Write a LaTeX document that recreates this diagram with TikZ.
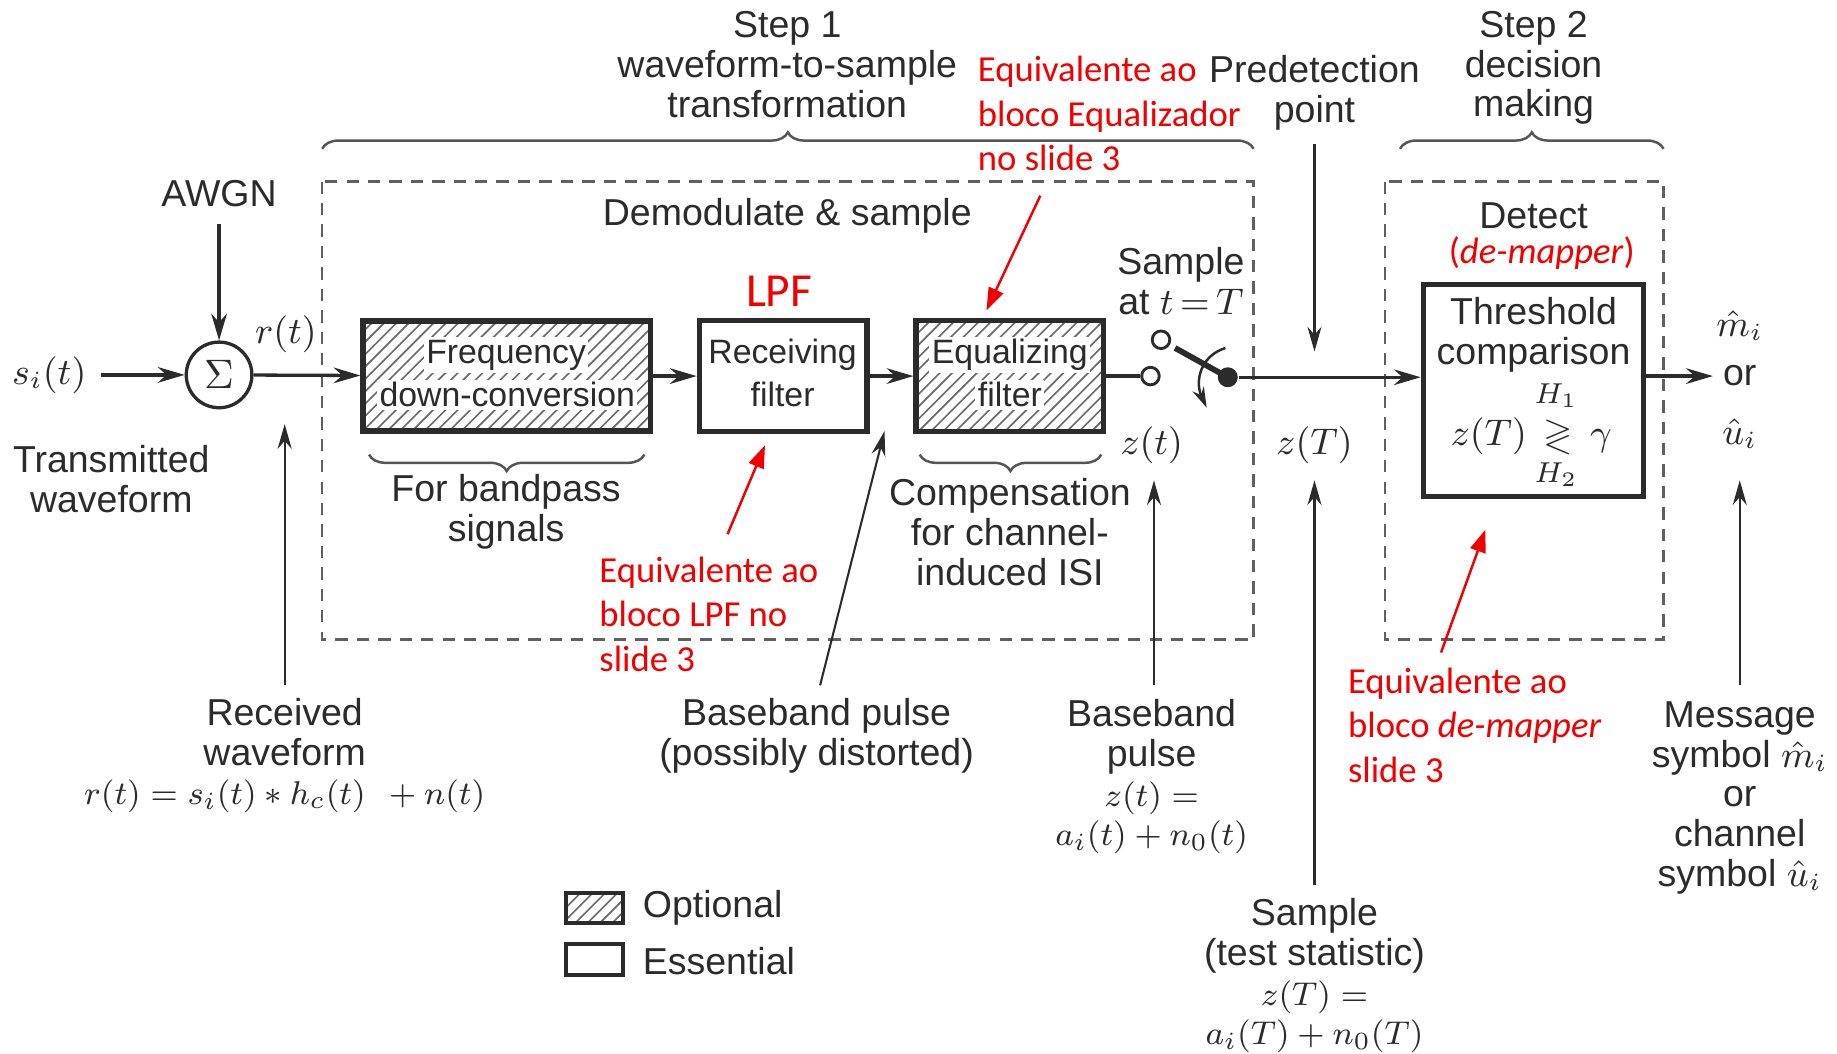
\documentclass[tikz,border=0pt]{standalone}
\usepackage{amsmath,amssymb}
\usepackage{fontspec}
\setmainfont{Liberation Sans}
\newfontfamily\redfont{Carlito}
\usetikzlibrary{arrows.meta,patterns,decorations.pathreplacing,calc}
\definecolor{ink}{HTML}{2B2B2B}
\definecolor{redc}{HTML}{F00000}
\newcommand{\smallmath}{\fontsize{8.4}{9.64}\selectfont}
\begin{document}
\begin{tikzpicture}[x=0.01cm,y=-0.01cm,
  txt/.style={font=\fontsize{9.1}{9.64}\selectfont, text=ink, align=center, inner sep=0pt},
  btxt/.style={font=\fontsize{8.2}{9.64}\selectfont, text=ink, inner sep=0.6pt, fill=white},
  rtxt/.style={font=\redfont\fontsize{8.9}{10.8}\selectfont, text=redc, align=left, inner sep=0pt},
  blk/.style={draw=ink, line width=1.3pt, inner sep=0pt},
  hatch/.style={pattern=north east lines, pattern color=ink!70},
  sig/.style={draw=ink, line width=0.8pt, -{Stealth[length=6.5pt,width=3.8pt]}},
  ann/.style={draw=ink, line width=0.5pt, -{Stealth[length=6pt,width=3.4pt]}},
  rarr/.style={draw=redc, line width=0.6pt, -{Triangle[length=5.5pt,width=3.8pt]}},
  dbox/.style={draw=ink!75, dash pattern=on 3pt off 2.2pt, line width=0.6pt},
  brc/.style={draw=ink!80, line width=0.6pt, decorate, decoration={brace, amplitude=4pt}},
  port/.style={circle, draw=ink, line width=0.7pt, fill=white, minimum size=0.15cm, inner sep=0pt}
]
\useasboundingbox (0,0) rectangle (1568,899);

% dashed frames
\draw[dbox] (275,155) rectangle (1070,546);
\draw[dbox] (1182,155) rectangle (1420,546);

% braces
\draw[brc] (275,127) -- (1070,127);
\draw[brc] (1195,127) -- (1420,127);
\draw[brc] (550,388) -- (315,388);
\draw[brc] (940,388) -- (785,388);

% top labels
\node[txt] (step1) at (672,55) {Step 1\\waveform-to-sample\\transformation};
\node[txt] (pred) at (1122,79) {Predetection\\point};
\node[txt] (step2) at (1309,58) {Step 2\\decision\\making};
\node[rtxt, anchor=west] (eqred) at (834,97) {Equivalente ao\\bloco Equalizador\\no slide 3};

\node[txt] (demod) at (672,184) {Demodulate \& sample};
\node[txt] (detect) at (1309,184) {Detect};
\node[rtxt] (dmap) at (1316,216) {(\textit{de-mapper})};
\node[txt] (sampT) at (1008,240) {Sample\\at $t\,{=}\,T$};

% input side
\node[txt] (awgn) at (187,165) {AWGN};
\node[txt] (si) at (42,320) {$s_i(t)$};
\node[circle, draw=ink, line width=0.8pt, minimum size=0.56cm, inner sep=0pt, text=ink] (sum) at (187,320) {$\Sigma$};
\node[txt] (rt) at (244,285) {$r(t)$};
\node[txt] (tw) at (95,409) {Transmitted\\waveform};

% blocks
\node[blk, hatch, minimum width=2.45cm, minimum height=0.94cm] (fdc) at (432.5,321) {};
\node[btxt] (fdc1) at (432,303) {Frequency};
\node[btxt] (fdc2) at (433,337) {down-conversion};
\node[blk, minimum width=1.43cm, minimum height=0.95cm] (rf) at (668.5,321) {};
\node[btxt] (rf1) at (668,303) {Receiving};
\node[btxt] (rf2) at (668,337) {filter};
\node[blk, hatch, minimum width=1.60cm, minimum height=0.95cm] (eq) at (862,321) {};
\node[btxt] (eq1) at (862,303) {Equalizing};
\node[btxt] (eq2) at (862,337) {filter};
\node[font=\redfont\fontsize{11.5}{12}\selectfont, text=redc, inner sep=0pt] (lpf) at (665,249) {LPF};

% switch
\node[port] (c1) at (982,321) {};
\node[port] (c2) at (991,290) {};
\node[circle, fill=ink, minimum size=0.17cm, inner sep=0pt] (dot) at (1048,322) {};
\coordinate (lev) at (1003,297);
\draw[ink, line width=1.4pt] (dot.center) -- (lev);
\coordinate (rotA) at (1046,297);
\coordinate (rotB) at (1030,348);
\draw[ink, line width=0.6pt, -{Stealth[length=5pt,width=3pt]}] (rotA) .. controls (1024,304) and (1020,326) .. (rotB);

% threshold block
\node[blk, minimum width=1.88cm, minimum height=1.81cm] (thr) at (1309,333.5) {};
\node[txt] (thr1) at (1309,286) {Threshold\\comparison};
\node[txt] (thrm) at (1307,372) {$z(T)\,\gtrless\,\gamma$};
\node[txt, font=\fontsize{7.5}{8}\selectfont] (h1) at (1328,338) {$H_1$};
\node[txt, font=\fontsize{7.5}{8}\selectfont] (h2) at (1328,405) {$H_2$};

% outputs
\node[txt] (mh) at (1485,278) {$\hat{m}_i$};
\node[txt] (orn) at (1485,321) {or};
\node[txt] (uh) at (1485,370) {$\hat{u}_i$};

% signal path
\draw[sig, shorten <=0.12cm] (si) -- (sum);
\draw[sig, shorten <=0.14cm] (awgn) -- (sum);
\draw[sig] (sum) -- (fdc);
\draw[sig] (fdc) -- (rf);
\draw[sig] (rf) -- (eq);
\draw[ink, line width=0.8pt] (eq.east) -- (c1.west);
\draw[sig] (dot.east) -- (thr.west |- dot.east);
\draw[sig] (thr.east |- orn.west) -- ($(orn.west)+(-8,0)$);

% labels under the path
\node[txt] (zt) at (983,380) {$z(t)$};
\node[txt] (zT) at (1122,380) {$z(T)$};
\node[txt] (bp) at (432,437) {For bandpass\\signals};
\node[txt] (comp) at (862,454) {Compensation\\for channel-\\induced ISI};

% bottom texts
\node[txt] (recv) at (243,645) {Received\\waveform\\{\smallmath$r(t) = s_i(t) \ast h_c(t)\;\, + n(t)$}};
\node[txt] (bbp) at (697,628) {Baseband pulse\\(possibly distorted)};
\node[txt] (bbz) at (983,663) {Baseband\\pulse\\{\smallmath$z(t) =$}\\{\smallmath$a_i(t) + n_0(t)$}};
\node[txt] (smp) at (1122,833) {Sample\\(test statistic)\\{\smallmath$z(T) =$}\\{\smallmath$a_i(T) + n_0(T)$}};
\node[txt] (msg) at (1485,681) {Message\\symbol $\hat{m}_i$\\or\\channel\\symbol $\hat{u}_i$};

% annotation arrows
\coordinate (predA) at (1122,123); \coordinate (predB) at (1122,300);
\draw[ann] (predA) -- (predB);
\coordinate (recvA) at (243,585); \coordinate (recvB) at (243,362);
\draw[ann] (recvA) -- (recvB);
\coordinate (bbpA) at (700,585); \coordinate (bbpB) at (755,368);
\draw[ann] (bbpA) -- (bbpB);
\coordinate (bbzA) at (985,585); \coordinate (bbzB) at (985,410);
\draw[ann] (bbzA) -- (bbzB);
\coordinate (smpA) at (1122,755); \coordinate (smpB) at (1122,410);
\draw[ann] (smpA) -- (smpB);
\coordinate (msgA) at (1485,585); \coordinate (msgB) at (1485,410);
\draw[ann] (msgA) -- (msgB);

% red notes
\node[rtxt, anchor=west] (lpfred) at (511,524) {Equivalente ao\\bloco LPF no\\slide 3};
\node[rtxt, anchor=west] (dmred) at (1150,619) {Equivalente ao\\bloco \textit{de-mapper}\\slide 3};
\coordinate (r1A) at (888,167); \coordinate (r1B) at (842,265);
\draw[rarr] (r1A) -- (r1B);
\coordinate (r2A) at (621,456); \coordinate (r2B) at (653,380);
\draw[rarr] (r2A) -- (r2B);
\coordinate (r3A) at (1230,557); \coordinate (r3B) at (1268,452);
\draw[rarr] (r3A) -- (r3B);

% legend
\node[draw=ink, line width=0.9pt, hatch, minimum width=0.49cm, minimum height=0.26cm, inner sep=0pt] (legopt) at (507.5,775) {};
\node[draw=ink, line width=0.9pt, minimum width=0.49cm, minimum height=0.26cm, inner sep=0pt] (legess) at (507.5,819) {};
\node[txt, anchor=west] (opt) at (548,775) {Optional};
\node[txt, anchor=west] (ess) at (548,820) {Essential};
\end{tikzpicture}
\end{document}
